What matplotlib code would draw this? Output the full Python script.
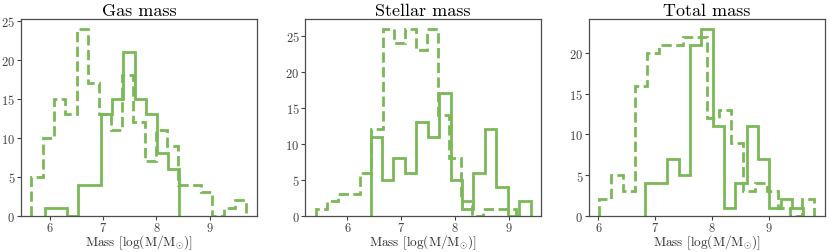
import matplotlib
matplotlib.use('Agg')
import matplotlib.pyplot as plt
import numpy as np

plt.rcParams['font.family'] = ['cmr10', 'DejaVu Serif']
plt.rcParams['mathtext.fontset'] = 'cm'
plt.rcParams['axes.formatter.use_mathtext'] = True

GREEN = '#79b956'

# Gas mass
gas_dash_start, gas_dash_width = 5.66, 0.2116
gas_dash = [5, 10, 15, 13, 24, 17, 13, 11, 18, 12, 7, 11, 9, 4, 4, 3, 0, 1, 2]
gas_solid_start, gas_solid_width = 5.907, 0.2103
gas_solid = [1, 1, 0, 4, 4, 13, 15, 21, 15, 13, 8, 6]

# Stellar mass
stel_dash_start, stel_dash_width = 5.414, 0.2068
stel_dash = [1, 2, 3, 3, 6, 12, 26, 24, 26, 23, 26, 14, 8, 2, 0, 1, 1, 1]
stel_solid_start, stel_solid_width = 6.431, 0.2121
stel_solid = [11, 5, 8, 6, 13, 11, 17, 5, 1, 6, 12, 4, 0, 2]

# Total mass
tot_dash_start, tot_dash_width = 6.017, 0.2097
tot_dash = [2, 5, 3, 16, 20, 21, 21, 22, 22, 12, 13, 9, 3, 4, 3, 1, 0, 2]
tot_solid_start, tot_solid_width = 6.811, 0.1993
tot_solid = [4, 4, 7, 5, 21, 23, 11, 1, 4, 11, 7, 1, 2, 1]

panels = [
    ('Gas mass', (gas_dash_start, gas_dash_width, gas_dash),
     (gas_solid_start, gas_solid_width, gas_solid)),
    ('Stellar mass', (stel_dash_start, stel_dash_width, stel_dash),
     (stel_solid_start, stel_solid_width, stel_solid)),
    ('Total mass', (tot_dash_start, tot_dash_width, tot_dash),
     (tot_solid_start, tot_solid_width, tot_solid)),
]

W, H = 830, 253
fig = plt.figure(figsize=(W / 100, H / 100), dpi=100)
lefts = [20.7, 305, 588.7]
ax_w = 236.3
top, bottom = 20.3, 216.7

for left, (title, dash, solid) in zip(lefts, panels):
    ax = fig.add_axes([left / W, (H - bottom) / H, ax_w / W, (bottom - top) / H])
    for (start, width, counts), ls in [(dash, '--'), (solid, '-')]:
        edges = start + width * np.arange(len(counts) + 1)
        ax.stairs(counts, edges, color=GREEN, lw=2, ls=ls)
    ax.set_ylim(bottom=0)
    ax.set_title(title, fontsize=13, pad=3)
    ax.set_xlabel(r'Mass [log(M/M$_{\odot}$)]', fontsize=9.5, labelpad=-1, color='0.2')
    ax.tick_params(labelsize=9, length=3, width=0.8, colors='0.25', pad=1)
    for sp in ax.spines.values():
        sp.set_color('0.3')
        sp.set_linewidth(0.9)

fig.savefig('out.png', dpi=100)
